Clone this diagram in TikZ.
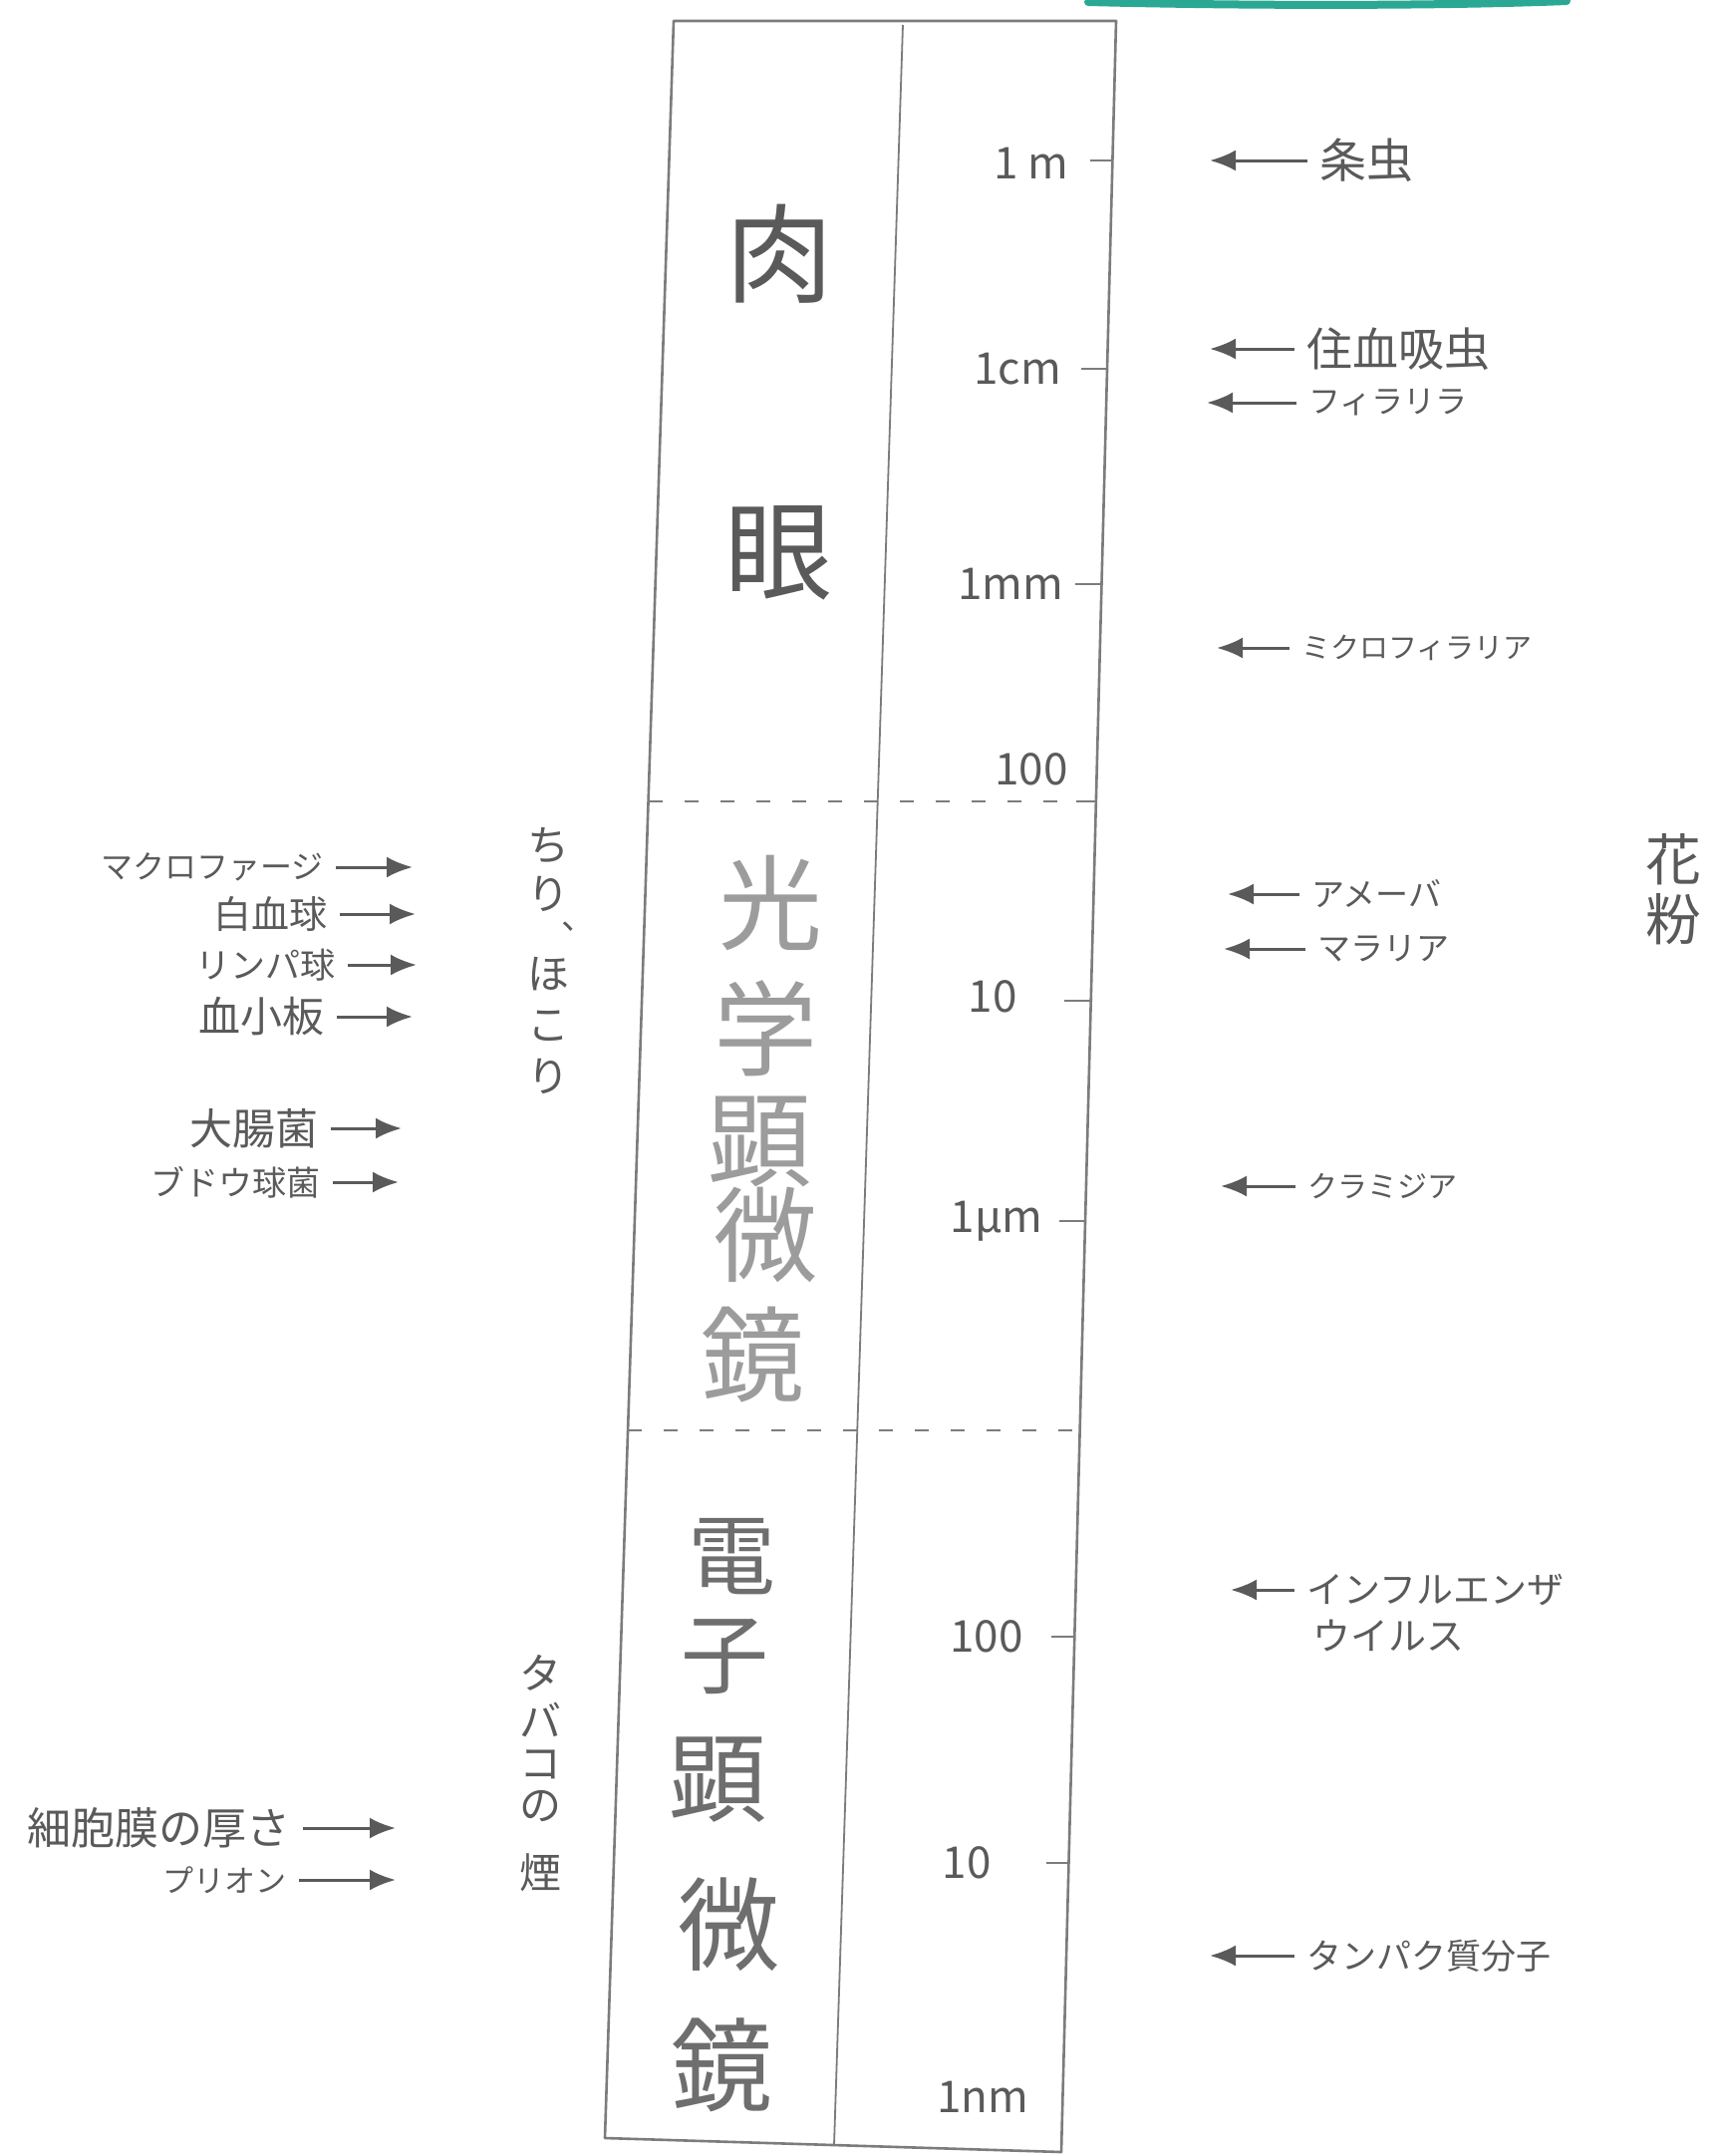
\documentclass[tikz,border=0pt]{standalone}
\usepackage{fontspec}
\setmainfont{Noto Sans CJK JP}
\usetikzlibrary{arrows.meta}
\definecolor{pencil}{HTML}{5A5A5A}
\definecolor{lightpencil}{HTML}{9C9C9C}
\definecolor{midpencil}{HTML}{6E6E6E}
\definecolor{frame}{HTML}{7C7C7C}
\definecolor{marker}{HTML}{2BA894}
\newcommand{\fsz}[1]{\fontsize{#1}{#1}\selectfont}
\begin{document}
\begin{tikzpicture}[x=1pt,y=-1pt,
  boxline/.style={draw=frame,line width=2.6pt,line join=round},
  divline/.style={draw=frame,line width=1.8pt},
  sepline/.style={draw=frame,line width=2pt,dash pattern=on 14pt off 22pt},
  tickline/.style={draw=frame,line width=2.4pt},
  scalelab/.style={text=pencil,font=\fsz{44},inner sep=0pt},
  bigchar/.style={text=pencil,font=\fsz{108},inner sep=0pt},
  lightchar/.style={text=lightpencil,font=\fsz{104},inner sep=0pt},
  emchar/.style={text=midpencil,font=\fsz{#1},inner sep=0pt},
  rlab/.style={text=pencil,anchor=west,inner sep=0pt,font=\fsz{#1}},
  llab/.style={text=pencil,anchor=east,inner sep=0pt,font=\fsz{#1}},
  ptr/.style={draw=pencil,line width=3pt,shorten <=12pt,-{Latex[length=26pt,width=21pt]}},
  vstack/.style={text=pencil,align=center,inner sep=0pt,font=\fsz{#1}}
]
\useasboundingbox (0,0) rectangle (1723,2163);
\fill[white] (0,0) rectangle (1723,2163);

% marker stroke at the top
\draw[marker,line width=8pt,line cap=round] (1092,2) .. controls (1250,6) and (1450,6) .. (1572,1);

% frame
\coordinate (TL) at (676,21);
\coordinate (TR) at (1120,21);
\coordinate (BR) at (1065,2159);
\coordinate (BL) at (607,2145);
\coordinate (DT) at (906,25);
\coordinate (DB) at (837,2152);
\draw[boxline] (TL) -- (TR) -- (BR) -- (BL) -- cycle;
\draw[divline] (DT) -- (DB);

% section separators
\coordinate (S1a) at (651,804);
\coordinate (S1b) at (1100,804);
\coordinate (S2a) at (630,1435);
\coordinate (S2b) at (1084,1435);
\draw[sepline] (S1a) -- (S1b);
\draw[sepline] (S2a) -- (S2b);

% ticks
\foreach \y/\xa/\xb in {161/1094/1116, 370/1085/1111, 586/1079/1105, 804/1080/1100, 1004/1068/1095, 1225/1063/1089, 1642/1055/1078, 1869/1050/1072}
  \draw[tickline] (\xa,\y) -- (\xb,\y);

% scale labels
\node[scalelab] (s1m) at (1035,164) {1 m};
\node[scalelab] (s1cm) at (1021,370) {1cm};
\node[scalelab] (s1mm) at (1014,586) {1mm};
\node[scalelab] (s100a) at (1035,772) {100};
\node[scalelab] (s10a) at (996,1000) {10};
\node[scalelab] (s1um) at (1000,1225) {1µm};
\node[scalelab] (s100b) at (990,1642) {100};
\node[scalelab] (s10b) at (970,1869) {10};
\node[scalelab] (s1nm) at (986,2104) {1nm};

% big characters in the left column
\node[bigchar] (c1) at (782,255) {肉};
\node[bigchar] (c2) at (781,555) {眼};
\node[lightchar] (c3) at (773,906) {光};
\node[lightchar] (c4) at (768,1032) {学};
\node[lightchar] (c5) at (762,1145) {顕};
\node[lightchar] (c6) at (768,1239) {微};
\node[lightchar] (c7) at (755,1359) {鏡};
\node[emchar=88] (c8) at (734,1562) {電};
\node[emchar=88] (c9) at (727,1662) {子};
\node[emchar=98] (c10) at (720,1786) {顕};
\node[emchar=102] (c11) at (731,1931) {微};
\node[emchar=102] (c12) at (724,2072) {鏡};

% right-hand labels
\node[rlab=47] (r1) at (1324,161) {条虫};
\coordinate (t1) at (1214,161);
\node[rlab=46] (r2) at (1311,350) {住血吸虫};
\coordinate (t2) at (1214,350);
\node[rlab=32] (r3) at (1313,404) {フィラリラ};
\coordinate (t3) at (1211,404);
\node[rlab=29] (r4) at (1306,650) {ミクロフィラリア};
\coordinate (t4) at (1221,650);
\node[rlab=33] (r5) at (1316,897) {アメーバ};
\coordinate (t5) at (1232,897);
\node[rlab=33] (r6) at (1322,952) {マラリア};
\coordinate (t6) at (1228,952);
\node[rlab=30] (r7) at (1312,1190) {クラミジア};
\coordinate (t7) at (1225,1190);
\node[rlab=37] (r8) at (1311,1595) {インフルエンザ};
\node[rlab=38] (r8b) at (1317,1641) {ウイルス};
\coordinate (t8) at (1235,1595);
\node[rlab=35] (r9) at (1311,1962) {タンパク質分子};
\coordinate (t9) at (1214,1962);
\foreach \n in {1,...,9} \draw[ptr] (r\n.west) -- (t\n);

% pollen
\node[vstack=56] (pollen) at (1679,892) {花\\[4pt]粉};

% left-hand labels
\node[llab=32] (l1) at (325,870) {マクロファージ};
\coordinate (u1) at (414,870);
\node[llab=38] (l2) at (329,917) {白血球};
\coordinate (u2) at (417,917);
\node[llab=35] (l3) at (337,968) {リンパ球};
\coordinate (u3) at (418,968);
\node[llab=42] (l4) at (326,1020) {血小板};
\coordinate (u4) at (414,1020);
\node[llab=43] (l5) at (320,1132) {大腸菌};
\coordinate (u5) at (403,1132);
\node[llab=34] (l6) at (322,1186) {ブドウ球菌};
\coordinate (u6) at (400,1186);
\node[llab=44] (l7) at (292,1834) {細胞膜の厚さ};
\coordinate (u7) at (397,1834);
\node[llab=31] (l8) at (288,1886) {プリオン};
\coordinate (u8) at (397,1886);
\foreach \n in {1,...,8} \draw[ptr] (l\n.east) -- (u\n);

% vertical notes
\node[vstack=42,anchor=north] (dust) at (550,830) {ち\\[7pt]り\\[38pt]ほ\\[9pt]こ\\[10pt]り};
\node[text=pencil,font=\fsz{34},inner sep=0pt] (dustc) at (580,930) {、};
\node[vstack=42,anchor=north] (smoke) at (542,1660) {タ\\[6pt]バ\\[0pt]コ\\[0pt]の\\[26pt]煙};

\end{tikzpicture}
\end{document}
